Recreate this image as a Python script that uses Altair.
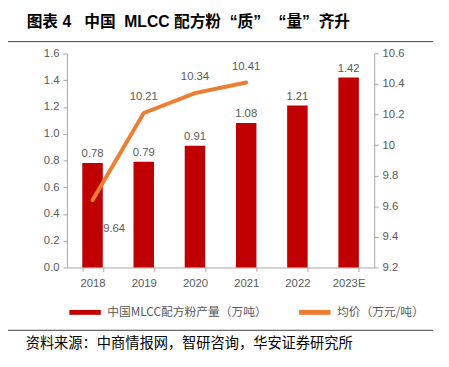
import altair as alt
import pandas as pd

years = ["2018", "2019", "2020", "2021", "2022", "2023E"]
output = [0.78, 0.79, 0.91, 1.08, 1.21, 1.42]
price_years = ["2018", "2019", "2020", "2021"]
price = [9.64, 10.21, 10.34, 10.41]
series_names = ["中国MLCC配方粉产量（万吨）", "均价（万元/吨）"]
colors = ["#C00000", "#ED7D31"]
left_ticks = [0.0, 0.2, 0.4, 0.6, 0.8, 1.0, 1.2, 1.4, 1.6]
right_ticks = [9.2, 9.4, 9.6, 9.8, 10.0, 10.2, 10.4, 10.6]
NB = "\u00a0"
title_text = ("图表" + NB + "4" + NB * 3 + "中国" + NB * 2 + "MLCC" + NB + "配方粉" + NB * 2
              + "“质”" + NB * 4 + "“量”" + NB * 2 + "齐升")
source_text = "资料来源：中商情报网，智研咨询，华安证券研究所"

bars_df = pd.DataFrame({"year": years, "output": output, "series": series_names[0]})
line_df = pd.DataFrame({"year": price_years, "price": price, "series": series_names[1]})

FONT = "Liberation Sans, Arial, Noto Sans CJK SC"
CJK = "Noto Sans CJK SC"
GRAY = "#595959"
AXIS = "#A6A6A6"

x = alt.X("year:N", sort=years, title=None,
          scale=alt.Scale(domain=years, paddingInner=0.6, paddingOuter=0.3),
          axis=alt.Axis(labelAngle=0, tickBand="extent", tickSize=4, domainColor=AXIS,
                        tickColor=AXIS, labelColor=GRAY, labelFontSize=11.5, labelFont=FONT,
                        labelPadding=6))

ybar = alt.Y("output:Q", title=None,
             scale=alt.Scale(domain=[0, 1.6], nice=False),
             axis=alt.Axis(values=left_ticks, format=".1f", tickSize=4, domainColor=AXIS,
                           tickColor=AXIS, labelColor=GRAY, labelFontSize=11.5, labelFont=FONT,
                           grid=False, labelPadding=4, labelOverlap=False, labelFlush=False))

bars = alt.Chart(bars_df).mark_bar(color=colors[0]).encode(x=x, y=ybar)
bar_labels = alt.Chart(bars_df).mark_text(baseline="bottom", dy=-4, fontSize=11.5,
                                          font=FONT, color=GRAY).encode(
    x=x, y=ybar, text=alt.Text("output:Q", format=".2f"))

yline = alt.Y("price:Q", title=None,
              scale=alt.Scale(domain=[9.2, 10.6], nice=False),
              axis=alt.Axis(orient="right", values=right_ticks, format="~g", tickSize=4,
                            domainColor=AXIS, tickColor=AXIS, labelColor=GRAY,
                            labelFontSize=11.5, labelFont=FONT, grid=False, labelPadding=4,
                            labelOverlap=False, labelFlush=False))

line = alt.Chart(line_df).mark_line(strokeWidth=4, strokeCap="round").encode(
    x=x, y=yline,
    color=alt.Color("series:N", scale=alt.Scale(domain=series_names, range=colors),
                    legend=alt.Legend(orient="none", legendX=0, legendY=245,
                                      direction="horizontal", title=None,
                                      symbolType="stroke", symbolStrokeWidth=5,
                                      symbolSize=1024, labelFont=CJK, labelFontSize=12,
                                      labelColor=GRAY, columnPadding=22, labelOffset=4,
                                      labelLimit=400)))

first = alt.Chart(line_df).transform_filter(alt.datum.year == "2018").mark_text(
    dx=22, dy=29, fontSize=11.5, font=FONT, color=GRAY).encode(
    x=x, y=yline, text=alt.Text("price:Q", format=".2f"))
rest = alt.Chart(line_df).transform_filter(alt.datum.year != "2018").mark_text(
    dy=-16, fontSize=11.5, font=FONT, color=GRAY).encode(
    x=x, y=yline, text=alt.Text("price:Q", format=".2f"))

deco_df = pd.DataFrame({"k": [0]})
title = alt.Chart(deco_df).mark_text(align="left", baseline="middle", fontSize=16,
                                     fontWeight="bold", font=FONT, color="#000000").encode(
    x=alt.value(-41), y=alt.value(-32), text=alt.value(title_text))
source = alt.Chart(deco_df).mark_text(align="left", baseline="middle", fontSize=14.5,
                                      font=CJK, color="#000000").encode(
    x=alt.value(-42), y=alt.value(296), text=alt.value(source_text))
rule_top = alt.Chart(deco_df).mark_rule(color="#404040", strokeWidth=1).encode(
    x=alt.value(-60), x2=alt.value(373), y=alt.value(-12))
rule_bot = alt.Chart(deco_df).mark_rule(color="#404040", strokeWidth=1).encode(
    x=alt.value(-60), x2=alt.value(373), y=alt.value(282))

left_layer = alt.layer(bars, bar_labels)
right_layer = alt.layer(line, first, rest)

chart = alt.layer(left_layer, right_layer, title, source, rule_top, rule_bot).resolve_scale(
    y="independent").properties(
    width=313, height=218,
    padding={"left": 60, "top": 43, "right": 68, "bottom": 90},
    autosize=alt.AutoSizeParams(type="none"),
).configure_view(stroke=None)

chart.save("out.html", embed_options={"renderer": "svg", "actions": False})
